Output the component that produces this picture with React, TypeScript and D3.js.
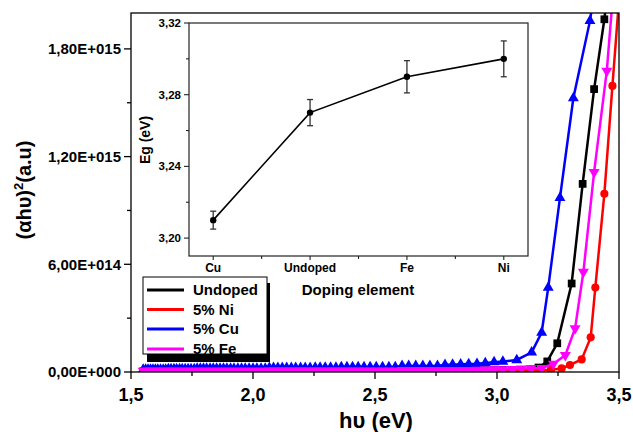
import React from "react";
import * as d3 from "d3";

// ---------- Main chart data (y values in units of 1E13) ----------
const FLAT_ENERGY = [1.550,1.560,1.570,1.580,1.590,1.600,1.610,1.621,1.632,1.642,1.653,1.664,1.676,1.687,1.699,1.710,1.722,1.734,1.746,1.759,1.771,1.784,1.797,1.810,1.824,1.837,1.851,1.865,1.879,1.893,1.908,1.922,1.938,1.953,1.968,1.984,2.000,2.016,2.033,2.050,2.067,2.084,2.102,2.120,2.138,2.157,2.175,2.195,2.214,2.234,2.255,2.275,2.296,2.318,2.340,2.362,2.385,2.408,2.431,2.455,2.480,2.505,2.531,2.557,2.583,2.611,2.638,2.667,2.696,2.725,2.756,2.787,2.818,2.851,2.884,2.918,2.952,2.988,3.024];

const UNDOPED_FLAT = [0.4,0.4,0.4,0.4,0.4,0.4,0.4,0.4,0.4,0.4,0.4,0.4,0.4,0.4,0.4,0.4,0.4,0.4,0.4,0.4,0.4,0.4,0.4,0.4,0.4,0.4,0.4,0.4,0.4,0.4,0.4,0.4,0.4,0.4,0.4,0.4,0.4,0.4,0.4,0.4,0.6,0.6,0.6,0.6,0.6,0.6,0.6,0.6,0.6,0.6,0.6,0.6,0.6,0.6,0.6,0.6,0.6,0.6,0.6,0.6,0.6,0.6,0.6,0.6,0.6,0.8,0.8,0.8,0.8,0.8,0.8,0.8,0.8,0.8,0.8,0.9,1.0,1.0,1.1];
const NI_FLAT = [0.2,0.2,0.2,0.2,0.2,0.2,0.2,0.2,0.2,0.2,0.2,0.2,0.2,0.2,0.2,0.2,0.2,0.2,0.2,0.2,0.2,0.2,0.2,0.2,0.2,0.2,0.2,0.2,0.2,0.2,0.2,0.2,0.2,0.2,0.2,0.2,0.2,0.2,0.2,0.2,0.3,0.3,0.3,0.3,0.3,0.3,0.3,0.3,0.3,0.3,0.3,0.3,0.3,0.3,0.3,0.3,0.3,0.3,0.3,0.3,0.3,0.3,0.3,0.3,0.3,0.4,0.4,0.4,0.4,0.4,0.4,0.4,0.4,0.4,0.4,0.5,0.5,0.6,0.6];
const CU_FLAT = [1.4,1.4,1.4,1.4,1.4,1.4,1.4,1.4,1.4,1.4,1.6,1.6,1.6,1.6,1.6,1.6,1.6,1.6,1.6,1.6,1.9,1.9,1.9,1.9,1.9,1.9,1.9,1.9,1.9,1.9,1.9,1.9,1.9,1.9,1.9,1.9,1.9,1.9,1.9,1.9,2.3,2.3,2.3,2.3,2.3,2.3,2.3,2.3,2.3,2.3,2.4,2.4,2.4,2.4,2.4,2.8,2.8,2.8,2.8,2.8,2.8,2.8,2.8,2.8,2.8,3.4,3.4,3.4,3.4,3.4,3.4,4.0,4.1,4.3,4.4,4.6,5.0,5.5,5.8];
const FE_FLAT = [0.6,0.6,0.6,0.6,0.6,0.6,0.6,0.6,0.6,0.6,0.6,0.6,0.6,0.6,0.6,0.6,0.6,0.6,0.6,0.6,0.6,0.6,0.6,0.6,0.6,0.6,0.6,0.6,0.6,0.6,0.6,0.6,0.6,0.6,0.6,0.6,0.6,0.6,0.6,0.6,0.8,0.8,0.8,0.8,0.8,0.8,0.8,0.8,0.8,0.8,0.8,0.8,0.8,0.8,0.8,0.8,0.8,0.8,0.8,0.8,0.8,0.8,0.8,0.8,0.8,1.0,1.0,1.0,1.0,1.0,1.0,1.0,1.0,1.0,1.0,1.2,1.3,1.4,1.5];

const UNDOPED_EDGE_E = [3.062,3.100,3.139,3.170,3.206,3.247,3.306,3.351,3.398,3.440,3.480];
const UNDOPED_EDGE_V = [1.0,1.2,1.5,2.5,5.9,16,49.3,104.8,157.6,196.5,245];
const NI_EDGE_E = [3.062,3.100,3.139,3.179,3.221,3.265,3.299,3.347,3.384,3.403,3.440,3.473,3.510];
const NI_EDGE_V = [0.6,0.7,0.8,1.0,1.3,2.0,3.9,7.0,19.3,47.1,99.3,159.4,225];
const CU_EDGE_E = [3.081,3.142,3.183,3.210,3.258,3.313,3.381,3.430];
const CU_EDGE_V = [6.7,10.9,22,47,97,152.6,195.6,240];
const FE_EDGE_E = [3.062,3.100,3.139,3.183,3.231,3.280,3.320,3.354,3.398,3.450,3.490];
const FE_EDGE_V = [1.6,1.8,2.0,2.2,4.5,9.4,24.3,55.7,111.3,167.8,235];

const SERIES_NAMES = ["Undoped", "5% Ni", "5% Cu", "5% Fe"];
const SERIES_COLORS = ["#000000", "#ff0000", "#0000ff", "#ff00ff"];

const X_TICKS = [1.5, 2.0, 2.5, 3.0, 3.5];
const X_TICK_LABELS = ["1,5", "2,0", "2,5", "3,0", "3,5"];
const X_MINOR = [1.75, 2.25, 2.75, 3.25];
const Y_TICKS = [0, 60, 120, 180];
const Y_TICK_LABELS = ["0,00E+000", "6,00E+014", "1,20E+015", "1,80E+015"];
const Y_MINOR = [30, 90, 150];

// ---------- Inset data ----------
const INSET_CATEGORIES = ["Cu", "Undoped", "Fe", "Ni"];
const INSET_EG = [3.21, 3.27, 3.29, 3.30];
const INSET_ERR = [0.005, 0.0073, 0.009, 0.01];
const INSET_Y_TICKS = [3.20, 3.24, 3.28, 3.32];
const INSET_Y_LABELS = ["3,20", "3,24", "3,28", "3,32"];
const INSET_Y_MINOR = [3.22, 3.26, 3.30];

const FONT = "'Liberation Sans', Arial, Helvetica, sans-serif";

function build(flatV: number[], edgeE: number[], edgeV: number[]) {
  const pts: [number, number][] = FLAT_ENERGY.map((e, i) => [e, flatV[i]]);
  edgeE.forEach((e, i) => pts.push([e, edgeV[i]]));
  return pts;
}

export default function App() {
  const x = d3.scaleLinear().domain([1.5, 3.5]).range([131, 619]);
  const y = d3.scaleLinear().domain([0, 200]).range([372, 13]);

  const series = [
    build(UNDOPED_FLAT, UNDOPED_EDGE_E, UNDOPED_EDGE_V),
    build(NI_FLAT, NI_EDGE_E, NI_EDGE_V),
    build(CU_FLAT, CU_EDGE_E, CU_EDGE_V),
    build(FE_FLAT, FE_EDGE_E, FE_EDGE_V),
  ];
  const line = d3
    .line<[number, number]>()
    .x((d) => x(d[0]))
    .y((d) => y(d[1]));

  const symTypes = [d3.symbolSquare, d3.symbolCircle, d3.symbolTriangle, d3.symbolTriangle];
  const symSizes = [60, 52, 52, 52];
  const symPaths = symTypes.map((t, i) => d3.symbol().type(t).size(symSizes[i])()!);

  // inset scales
  const xi = d3.scaleLinear().domain([-0.25, 3.25]).range([189, 528]);
  const yi = d3.scaleLinear().domain([3.19, 3.32]).range([256, 23]);
  const insetLine = d3
    .line<number>()
    .x((_, i) => xi(i))
    .y((d) => yi(d));

  const legendRows = [290, 309.5, 329, 349];

  return (
    <svg
      width={633}
      height={432}
      style={{ position: "absolute", left: 0, top: 0, background: "#fff" }}
      fontFamily={FONT}
      fontWeight="bold"
    >
      <defs>
        <clipPath id="plotclip">
          <rect x={131} y={13} width={488} height={359} />
        </clipPath>
      </defs>
      <rect x={0} y={0} width={633} height={432} fill="#fff" />

      {/* data */}
      <g clipPath="url(#plotclip)">
        {series.map((pts, si) => (
          <g key={si}>
            <path d={line(pts)!} fill="none" stroke={SERIES_COLORS[si]} strokeWidth={2.5} />
            {pts.map((p, pi) => (
              <path
                key={pi}
                d={symPaths[si]}
                fill={SERIES_COLORS[si]}
                transform={`translate(${x(p[0])},${y(p[1])})${si === 3 ? " rotate(180)" : ""}`}
              />
            ))}
          </g>
        ))}
      </g>

      {/* frame */}
      <rect x={131} y={13} width={488} height={359} fill="none" stroke="#000" strokeWidth={1.3} />

      {/* x axis */}
      {X_TICKS.map((t, i) => (
        <g key={t}>
          <line x1={x(t)} x2={x(t)} y1={372} y2={379} stroke="#000" strokeWidth={1.3} />
          <text x={x(t)} y={401} textAnchor="middle" fontSize={18}>
            {X_TICK_LABELS[i]}
          </text>
        </g>
      ))}
      {X_MINOR.map((t) => (
        <line key={t} x1={x(t)} x2={x(t)} y1={372} y2={376} stroke="#000" strokeWidth={1.3} />
      ))}
      <text x={376} y={428} textAnchor="middle" fontSize={22}>
        hυ (eV)
      </text>

      {/* y axis */}
      {Y_TICKS.map((t, i) => (
        <g key={t}>
          <line x1={124} x2={131} y1={y(t)} y2={y(t)} stroke="#000" strokeWidth={1.3} />
          <text x={121} y={y(t)} dy="0.35em" textAnchor="end" fontSize={15}>
            {Y_TICK_LABELS[i]}
          </text>
        </g>
      ))}
      {Y_MINOR.map((t) => (
        <line key={t} x1={127} x2={131} y1={y(t)} y2={y(t)} stroke="#000" strokeWidth={1.3} />
      ))}
      <text transform="translate(31,190) rotate(-90)" textAnchor="middle" fontSize={20}>
        (αhυ)
        <tspan dy={-8} fontSize={13}>2</tspan>
        <tspan dy={8}>(a.u)</tspan>
      </text>

      {/* legend */}
      <rect x={147} y={283} width={123} height={79} fill="#000" />
      <rect x={143} y={277} width={124} height={77} fill="#fff" stroke="#000" strokeWidth={1} />
      {SERIES_NAMES.map((n, i) => (
        <g key={n}>
          <line x1={147} x2={184} y1={legendRows[i]} y2={legendRows[i]} stroke={SERIES_COLORS[i]} strokeWidth={3} />
          <text x={193} y={legendRows[i]} dy="0.36em" fontSize={15}>
            {n}
          </text>
        </g>
      ))}

      {/* inset */}
      <rect x={189} y={23} width={339} height={233} fill="#fff" stroke="#222" strokeWidth={1.2} />
      {INSET_Y_TICKS.map((t, i) => (
        <g key={t}>
          <line x1={184} x2={189} y1={yi(t)} y2={yi(t)} stroke="#222" strokeWidth={1.1} />
          <text x={181} y={yi(t)} dy="0.35em" textAnchor="end" fontSize={11.5}>
            {INSET_Y_LABELS[i]}
          </text>
        </g>
      ))}
      {INSET_Y_MINOR.map((t) => (
        <line key={t} x1={186} x2={189} y1={yi(t)} y2={yi(t)} stroke="#222" strokeWidth={1.1} />
      ))}
      {INSET_CATEGORIES.map((c, i) => (
        <g key={c}>
          <line x1={xi(i)} x2={xi(i)} y1={256} y2={260} stroke="#222" strokeWidth={1.1} />
          <text x={xi(i)} y={272} textAnchor="middle" fontSize={12}>
            {c}
          </text>
        </g>
      ))}
      {[0.5, 1.5, 2.5].map((t) => (
        <line key={t} x1={xi(t)} x2={xi(t)} y1={256} y2={259} stroke="#222" strokeWidth={1.1} />
      ))}
      <text x={358} y={295} textAnchor="middle" fontSize={15}>
        Doping element
      </text>
      <text transform="translate(150,140) rotate(-90)" textAnchor="middle" fontSize={14}>
        Eg (eV)
      </text>
      <path d={insetLine(INSET_EG)!} fill="none" stroke="#000" strokeWidth={1.6} />
      {INSET_EG.map((v, i) => (
        <g key={i} stroke="#333" strokeWidth={1.3}>
          <line x1={xi(i)} x2={xi(i)} y1={yi(v - INSET_ERR[i])} y2={yi(v + INSET_ERR[i])} />
          <line x1={xi(i) - 3} x2={xi(i) + 3} y1={yi(v - INSET_ERR[i])} y2={yi(v - INSET_ERR[i])} />
          <line x1={xi(i) - 3} x2={xi(i) + 3} y1={yi(v + INSET_ERR[i])} y2={yi(v + INSET_ERR[i])} />
          <circle cx={xi(i)} cy={yi(v)} r={3.2} fill="#000" stroke="none" />
        </g>
      ))}
    </svg>
  );
}
